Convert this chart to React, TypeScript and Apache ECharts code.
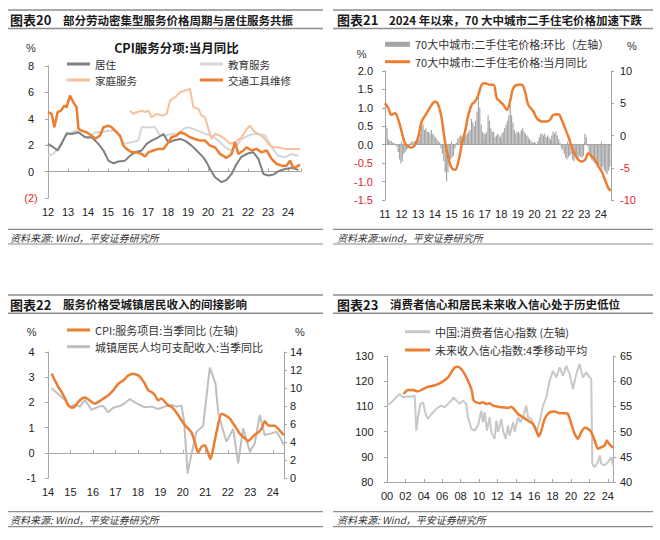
import React, { useEffect, useRef } from 'react';
import * as echarts from 'echarts';

const FONT = "'Liberation Sans', 'Noto Sans CJK SC', sans-serif";
const CJK = "'Noto Sans CJK SC', 'Liberation Sans', sans-serif";
const ORANGE = '#ed7d31';
const RED = '#e0262b';
const AXIS = '#a6a6a6';

// ---------- Panel 1 (图表20): CPI服务分项:当月同比, [year, %] ----------
const housing: number[][] = [
  [2012.0, 2.1], [2012.27, 1.84], [2012.48, 1.6], [2012.68, 2.1], [2012.93, 2.9], [2013.18, 2.85],
  [2013.52, 2.98], [2013.85, 2.6], [2014.18, 2.6], [2014.52, 2.1], [2014.77, 1.6], [2015.02, 0.83],
  [2015.27, 0.63], [2015.52, 0.76], [2015.85, 0.83], [2016.1, 1.2], [2016.35, 1.46], [2016.68, 1.6],
  [2016.93, 2.1], [2017.18, 2.35], [2017.52, 2.6], [2017.77, 2.85], [2018.02, 2.2], [2018.27, 2.35],
  [2018.6, 2.47], [2018.85, 2.35], [2019.18, 1.97], [2019.52, 1.46], [2019.77, 1.08], [2019.93, 0.7],
  [2020.1, 0.2], [2020.35, -0.43], [2020.68, -0.8], [2020.93, -0.63], [2021.18, -0.18], [2021.43, 0.58],
  [2021.68, 1.14], [2022.02, 1.39], [2022.27, 1.46], [2022.52, 0.96], [2022.77, -0.18], [2023.02, -0.3],
  [2023.27, -0.23], [2023.52, 0.03], [2023.85, 0.2], [2024.18, 0.28], [2024.52, 0.13],
];
const education: number[][] = [
  [2012.0, 1.2], [2012.27, 1.34], [2012.52, 1.84], [2012.77, 2.47], [2013.02, 2.85], [2013.35, 3.1],
  [2013.68, 2.85], [2014.02, 2.47], [2014.35, 2.98], [2014.68, 2.98], [2015.02, 3.1], [2015.43, 3.1],
  [2015.68, 2.35], [2015.85, 2.1], [2016.18, 2.22], [2016.52, 2.35], [2016.68, 3.36], [2017.02, 3.36],
  [2017.35, 3.36], [2017.6, 2.73], [2017.85, 2.73], [2018.18, 2.85], [2018.52, 2.85], [2018.77, 3.23],
  [2019.02, 3.36], [2019.27, 3.23], [2019.52, 3.1], [2019.85, 2.85], [2020.18, 2.73], [2020.52, 2.35],
  [2020.85, 1.84], [2021.18, 1.6], [2021.43, 1.97], [2021.68, 2.47], [2022.02, 2.73], [2022.27, 2.85],
  [2022.52, 2.85], [2022.85, 2.73], [2023.18, 1.84], [2023.52, 1.2], [2023.85, 1.08], [2024.18, 1.34],
  [2024.52, 1.2],
];
const household: number[][] = [
  [2016.1, 4.62], [2016.27, 4.37], [2016.43, 4.5], [2016.68, 4.62], [2016.85, 4.5], [2017.02, 4.62],
  [2017.18, 4.12], [2017.43, 4.37], [2017.68, 4.24], [2017.93, 4.37], [2018.1, 5.38], [2018.35, 5.63],
  [2018.6, 6.0], [2018.85, 6.14], [2019.1, 6.26], [2019.27, 4.87], [2019.52, 4.75], [2019.68, 4.24],
  [2019.85, 4.12], [2020.02, 3.23], [2020.18, 2.47], [2020.35, 2.85], [2020.6, 2.73], [2020.85, 2.47],
  [2021.1, 2.1], [2021.35, 2.22], [2021.68, 2.6], [2021.93, 3.23], [2022.1, 3.48], [2022.27, 3.1],
  [2022.52, 2.85], [2022.77, 2.6], [2023.02, 2.1], [2023.27, 1.84], [2023.52, 1.84], [2023.85, 1.72],
  [2024.18, 1.72], [2024.6, 1.72],
];
const vehicleRepair: number[][] = [
  [2012.0, 4.5], [2012.18, 4.37], [2012.32, 3.36], [2012.48, 4.5], [2012.65, 4.62], [2012.82, 5.0],
  [2012.93, 4.87], [2013.1, 5.76], [2013.27, 5.25], [2013.43, 4.87], [2013.52, 3.23], [2013.68, 3.1],
  [2013.93, 2.98], [2014.18, 2.73], [2014.35, 2.47], [2014.6, 2.73], [2014.77, 3.36], [2015.02, 3.48],
  [2015.18, 3.36], [2015.35, 3.1], [2015.6, 2.73], [2015.77, 1.97], [2015.93, 1.72], [2016.18, 1.46],
  [2016.43, 1.46], [2016.68, 1.34], [2016.85, 1.14], [2017.02, 1.46], [2017.27, 1.6], [2017.52, 1.72],
  [2017.77, 1.72], [2018.02, 2.22], [2018.18, 2.6], [2018.43, 2.73], [2018.6, 2.98], [2018.85, 2.85],
  [2019.1, 2.6], [2019.35, 2.47], [2019.6, 2.35], [2019.85, 2.35], [2020.1, 1.97], [2020.35, 1.84],
  [2020.6, 1.34], [2020.93, 1.04], [2021.18, 1.34], [2021.35, 2.22], [2021.52, 1.34], [2021.77, 1.6],
  [2021.93, 1.84], [2022.18, 1.6], [2022.43, 1.72], [2022.68, 1.46], [2022.93, 1.6], [2023.18, 0.96],
  [2023.43, 0.58], [2023.68, 0.45], [2023.93, 0.45], [2024.1, 0.83], [2024.27, 0.28], [2024.43, 0.38],
  [2024.6, 0.53],
];

// ---------- Panel 2 (图表21): 70城二手住宅, monthly MoM from 2011-01 (%), YoY [year, %] ----------
const homeMoMStart = 2011;
const homeMoM: number[] = [
  0.55, 0.45, 0.15, 0.1, 0.1, 0.05, 0.05, 0.0, -0.05, -0.2, -0.4, -0.5,
  -0.45, -0.25, -0.2, -0.15, -0.1, -0.05, 0.05, 0.1, 0.05, 0.1, 0.1, 0.05,
  0.15, 0.3, 0.5, 0.55, 0.4, 0.45, 0.35, 0.35, 0.3, 0.4, 0.3, 0.25,
  0.2, 0.15, 0.1, 0.05, -0.1, -0.25, -0.45, -0.75, -1.0, -0.75, -0.55, -0.4,
  -0.35, -0.3, -0.1, 0.05, 0.15, 0.2, 0.25, 0.25, 0.2, 0.3, 0.25, 0.3,
  0.35, 0.4, 0.7, 0.6, 0.5, 0.65, 0.9, 1.3, 1.0, 0.55, 0.35, 0.3,
  0.3, 0.35, 0.8, 0.65, 0.45, 0.35, 0.35, 0.2, 0.25, 0.3, 0.25, 0.2,
  0.3, 0.35, 0.45, 0.55, 0.65, 0.8, 1.1, 0.8, 0.6, 0.4, 0.3, 0.35,
  0.35, 0.3, 0.4, 0.45, 0.35, 0.3, 0.25, 0.2, 0.15, 0.1, 0.05, 0.05,
  0.05, 0.0, 0.1, 0.2, 0.3, 0.3, 0.25, 0.3, 0.2, 0.25, 0.2, 0.15,
  0.25, 0.35, 0.3, 0.35, 0.25, 0.15, 0.05, -0.1, -0.15, -0.25, -0.35, -0.4,
  -0.35, -0.3, -0.25, -0.4, -0.45, -0.3, -0.35, -0.4, -0.3, -0.35, -0.35, -0.3,
  0.3, 0.2, -0.05, -0.2, -0.3, -0.4, -0.45, -0.5, -0.4, -0.5, -0.55, -0.6,
  -0.65, -0.6, -0.7, -0.75, -0.8, -0.7, -0.6,
];
const homeYoY: number[][] = [
  [2011.0, 5.0], [2011.2, 4.24], [2011.4, 3.2], [2011.6, 3.46], [2011.8, 2.43], [2012.0, 0.62],
  [2012.2, -1.19], [2012.41, -1.7], [2012.61, -1.86], [2012.81, -1.45], [2013.01, -0.16], [2013.21, 2.17],
  [2013.51, 3.46], [2013.81, 4.75], [2014.01, 5.27], [2014.21, 4.75], [2014.41, 2.69], [2014.61, -0.93],
  [2014.82, -3.51], [2015.02, -5.06], [2015.22, -5.32], [2015.42, -4.03], [2015.62, -1.45], [2015.82, 0.62],
  [2016.02, 3.2], [2016.22, 4.75], [2016.42, 5.27], [2016.62, 6.3], [2016.82, 7.86], [2017.02, 8.11],
  [2017.33, 7.86], [2017.53, 7.86], [2017.73, 5.79], [2017.93, 5.27], [2018.13, 4.75], [2018.33, 3.98],
  [2018.53, 5.27], [2018.73, 7.34], [2019.03, 7.86], [2019.23, 7.86], [2019.43, 6.82], [2019.63, 4.75],
  [2019.94, 3.72], [2020.14, 2.69], [2020.44, 2.17], [2020.74, 2.17], [2020.94, 2.43], [2021.14, 3.2],
  [2021.44, 3.3], [2021.64, 2.43], [2021.84, 1.14], [2022.04, -0.16], [2022.24, -1.7], [2022.45, -3.0],
  [2022.65, -3.77], [2022.85, -4.03], [2023.05, -3.77], [2023.25, -2.74], [2023.45, -3.26], [2023.65, -3.77],
  [2023.85, -4.81], [2024.05, -5.58], [2024.25, -6.87], [2024.45, -8.16], [2024.59, -8.58],
];

// ---------- Panel 3 (图表22): CPI服务 (left) vs 城镇居民人均可支配收入 (right) ----------
const cpiServices: number[][] = [
  [2014.16, 3.14], [2014.31, 2.87], [2014.46, 2.61], [2014.61, 2.41], [2014.76, 2.15], [2014.9, 1.88],
  [2015.05, 1.79], [2015.2, 1.84], [2015.35, 2.02], [2015.5, 2.15], [2015.64, 2.19], [2015.79, 2.12],
  [2015.94, 2.02], [2016.09, 1.95], [2016.24, 2.02], [2016.46, 2.15], [2016.68, 2.28], [2016.9, 2.48],
  [2017.13, 2.74], [2017.35, 2.87], [2017.57, 3.07], [2017.79, 3.14], [2018.01, 3.07], [2018.16, 2.94],
  [2018.31, 2.74], [2018.46, 2.48], [2018.61, 2.41], [2018.76, 2.28], [2018.9, 2.08], [2019.05, 2.15],
  [2019.2, 2.02], [2019.35, 1.88], [2019.5, 1.82], [2019.64, 1.69], [2019.79, 1.49], [2019.94, 1.29],
  [2020.09, 1.09], [2020.24, 0.96], [2020.39, 0.8], [2020.53, 0.43], [2020.68, 0.01], [2020.83, 0.24],
  [2020.98, 0.3], [2021.13, -0.03], [2021.23, -0.25], [2021.35, 0.17], [2021.5, 0.83], [2021.72, 1.55],
  [2021.94, 1.46], [2022.09, 1.36], [2022.24, 1.16], [2022.39, 0.96], [2022.53, 0.76], [2022.76, 0.57],
  [2022.9, 0.46], [2023.05, 0.57], [2023.2, 0.72], [2023.35, 0.8], [2023.5, 0.96], [2023.64, 1.25],
  [2023.79, 1.09], [2023.94, 1.07], [2024.09, 1.07], [2024.24, 0.96], [2024.39, 0.8], [2024.49, 0.7],
];
const urbanIncome: number[][] = [
  [2014.16, 9.96], [2014.46, 9.3], [2014.76, 8.67], [2014.98, 7.93], [2015.2, 8.19], [2015.42, 7.93],
  [2015.64, 8.67], [2015.94, 7.56], [2016.24, 7.93], [2016.46, 8.0], [2016.68, 7.3], [2016.9, 7.81],
  [2017.2, 8.0], [2017.42, 8.3], [2017.64, 8.78], [2017.87, 8.41], [2018.09, 8.11], [2018.31, 7.85],
  [2018.61, 7.93], [2018.9, 7.67], [2019.2, 7.93], [2019.5, 8.11], [2019.72, 7.93], [2019.94, 8.04],
  [2020.06, 6.26], [2020.21, 0.52], [2020.39, 2.74], [2020.61, 5.15], [2020.9, 5.78], [2021.05, 9.04],
  [2021.2, 12.26], [2021.45, 10.52], [2021.57, 7.37], [2021.72, 5.89], [2021.94, 4.04], [2022.24, 5.44],
  [2022.46, 1.63], [2022.68, 5.52], [2022.98, 2.93], [2023.2, 3.85], [2023.42, 7.0], [2023.64, 4.78],
  [2023.94, 4.96], [2024.16, 5.15], [2024.31, 4.59], [2024.49, 3.67],
];

// ---------- Panel 4 (图表23): 消费者信心指数 (left) vs 未来收入信心指数 (right) ----------
const consumerConfidence: number[][] = [
  [2000.0, 110.3], [2000.47, 111.6], [2001.01, 113.6], [2001.38, 114.9], [2001.74, 113.6], [2002.28, 113.9],
  [2002.83, 113.9], [2003.01, 114.3], [2003.19, 100.4], [2003.37, 105.7], [2003.62, 111.0], [2003.91, 111.6],
  [2004.2, 107.0], [2004.46, 105.0], [2004.82, 107.0], [2005.18, 108.3], [2005.54, 109.6], [2005.91, 110.3],
  [2006.27, 109.6], [2006.63, 111.0], [2006.99, 112.3], [2007.25, 113.6], [2007.54, 112.3], [2007.9, 111.0],
  [2008.26, 112.3], [2008.62, 111.0], [2008.8, 105.7], [2009.17, 101.1], [2009.53, 100.4], [2009.89, 102.4],
  [2010.25, 108.3], [2010.43, 103.7], [2010.62, 107.7], [2010.87, 100.4], [2011.16, 105.7], [2011.34, 99.8],
  [2011.7, 97.1], [2011.88, 104.4], [2012.07, 99.8], [2012.43, 105.0], [2012.61, 100.4], [2012.9, 97.1],
  [2013.15, 102.4], [2013.33, 98.4], [2013.7, 103.7], [2013.88, 99.8], [2014.24, 105.7], [2014.49, 103.7],
  [2014.78, 105.7], [2015.14, 110.3], [2015.33, 105.7], [2015.69, 105.0], [2016.05, 101.7], [2016.23, 99.8],
  [2016.59, 103.7], [2016.96, 110.3], [2017.32, 113.6], [2017.68, 120.2], [2018.04, 124.1], [2018.41, 121.5],
  [2018.77, 125.5], [2019.13, 122.2], [2019.49, 126.1], [2019.86, 122.8], [2020.22, 116.9], [2020.58, 122.8],
  [2020.94, 126.8], [2021.3, 121.5], [2021.67, 123.5], [2022.03, 121.5], [2022.21, 120.8], [2022.32, 87.2],
  [2022.57, 85.9], [2022.93, 87.9], [2023.12, 90.5], [2023.3, 87.2], [2023.66, 86.6], [2024.02, 87.9],
  [2024.38, 89.9], [2024.57, 86.6],
];
const incomeConfidence: number[][] = [
  [2001.81, 57.46], [2002.28, 58.25], [2002.83, 58.25], [2003.37, 57.98], [2003.91, 58.45], [2004.46, 58.9],
  [2005.0, 59.1], [2005.54, 59.43], [2006.09, 59.96], [2006.63, 60.75], [2006.99, 61.74], [2007.36, 62.73],
  [2007.72, 62.86], [2008.08, 62.4], [2008.44, 61.4], [2008.8, 60.09], [2009.17, 58.45], [2009.42, 56.14],
  [2009.71, 55.81], [2010.07, 55.61], [2010.43, 55.81], [2010.8, 55.48], [2011.16, 55.61], [2011.52, 55.15],
  [2012.07, 54.95], [2012.61, 54.82], [2013.15, 54.69], [2013.51, 54.95], [2013.88, 54.3], [2014.24, 53.5],
  [2014.78, 52.85], [2015.33, 52.19], [2015.87, 51.53], [2016.23, 50.21], [2016.49, 49.03], [2016.78, 50.21],
  [2017.14, 52.52], [2017.68, 53.83], [2018.22, 53.97], [2018.77, 53.64], [2019.31, 53.64], [2019.67, 53.5],
  [2020.04, 51.53], [2020.4, 49.55], [2020.76, 48.56], [2021.12, 49.88], [2021.49, 50.74], [2021.85, 50.54],
  [2022.21, 49.88], [2022.57, 48.23], [2022.93, 46.59], [2023.3, 46.92], [2023.66, 47.25], [2023.91, 48.23],
  [2024.2, 47.44], [2024.57, 46.79],
];

// ---------- helpers ----------
const yearLabel = (pad: boolean) => (v: number) =>
  Number.isInteger(v) ? (pad ? String(v % 100).padStart(2, '0') : String(v % 100)) : '';

function labelXAxis(grid: number, min: number, max: number, interval: number, pad = false, withLine = false) {
  return {
    type: 'value', gridIndex: grid, min, max, interval, position: 'bottom',
    axisLine: { show: withLine, onZero: false, lineStyle: { color: AXIS, width: 1 } },
    axisTick: { show: withLine, inside: true, length: 3, lineStyle: { color: AXIS } },
    splitLine: { show: false },
    axisLabel: { fontSize: 11, color: '#222', fontFamily: FONT, margin: 8, showMaxLabel: false, formatter: yearLabel(pad) },
  };
}
function zeroXAxis(grid: number, min: number, max: number, interval: number) {
  return {
    type: 'value', gridIndex: grid, min, max, interval, position: 'bottom',
    axisLine: { show: true, onZero: true, lineStyle: { color: AXIS, width: 1 } },
    axisTick: { show: true, inside: true, length: 3, lineStyle: { color: AXIS } },
    axisLabel: { show: false }, splitLine: { show: false },
  };
}
function valYAxis(grid: number, position: string, min: number, max: number, interval: number, label: any) {
  return {
    type: 'value', gridIndex: grid, position, min, max, interval,
    axisLine: { show: true, onZero: false, lineStyle: { color: AXIS, width: 1 } },
    axisTick: { show: true, length: 3, lineStyle: { color: AXIS } },
    splitLine: { show: false },
    axisLabel: Object.assign({ fontSize: 11, fontFamily: FONT, color: (v: any) => (Number(v) < 0 ? RED : '#222') }, label),
  };
}
function legend(name: string, left: number, cy: number, w: number, h: number, fs = 11) {
  return {
    data: [name], left, top: cy - 6, padding: 0, itemWidth: w, itemHeight: h, icon: 'rect', selectedMode: false,
    textStyle: { fontSize: fs, lineHeight: 12, color: '#333', fontFamily: CJK },
  };
}
function txt(text: string, x: number, y: number, font: string, fill = '#222', align = 'left') {
  return { type: 'text', silent: true, style: { text, x, y, font, fill, textAlign: align, textVerticalAlign: 'middle' } };
}
function hline(x1: number, x2: number, y: number, w = 1.5, color = '#8c8c8c') {
  return { type: 'line', silent: true, shape: { x1, y1: y, x2, y2: y }, style: { stroke: color, lineWidth: w } };
}

const HEAD_LABEL = `bold 13px ${CJK}`;
const HEAD_TITLE = `bold 11.5px ${CJK}`;
const SRC = `italic 10px ${CJK}`;
const SMALL = `11px ${FONT}`;

const graphics: any[] = [
  // panel 1 header
  hline(8, 323, 10), hline(8, 323, 28.5),
  txt('图表20', 10, 19.5, HEAD_LABEL, '#1a1a1a'), txt('部分劳动密集型服务价格周期与居住服务共振', 63, 19.5, HEAD_TITLE, '#1a1a1a'),
  txt('%', 31, 48, SMALL, '#333', 'center'),
  txt('CPI服务分项:当月同比', 176.5, 47, `bold 12.5px ${CJK}`, '#1a1a1a', 'center'),
  hline(8, 323, 229.3, 1.2), hline(8, 323, 244, 1.2),
  txt('资料来源: Wind，平安证券研究所', 10, 237.3, SRC, '#333'),
  // panel 2 header
  hline(333, 653, 10), hline(333, 653, 28.5),
  txt('图表21', 337, 19.5, HEAD_LABEL, '#1a1a1a'), txt('2024 年以来，70 大中城市二手住宅价格加速下跌', 389, 19.5, HEAD_TITLE, '#1a1a1a'),
  txt('%', 361.7, 53.5, SMALL, '#333', 'center'), txt('%', 632, 46, SMALL, '#333', 'center'),
  hline(333, 653, 229.3, 1.2), hline(333, 653, 244, 1.2),
  txt('资料来源:wind，平安证券研究所', 337, 237.3, SRC, '#333'),
  // panel 3 header
  hline(8, 323, 295), hline(8, 323, 313.3),
  txt('图表22', 10, 304.3, HEAD_LABEL, '#1a1a1a'), txt('服务价格受城镇居民收入的间接影响', 63, 304.3, HEAD_TITLE, '#1a1a1a'),
  txt('%', 31.7, 331.7, SMALL, '#333', 'center'), txt('%', 300, 331.7, SMALL, '#333', 'center'),
  hline(8, 323, 511.7, 1.2), hline(8, 323, 526.7, 1.2),
  txt('资料来源: Wind，平安证券研究所', 10, 519, SRC, '#333'),
  // panel 4 header
  hline(333, 653, 295), hline(333, 653, 313.3),
  txt('图表23', 337, 304.3, HEAD_LABEL, '#1a1a1a'), txt('消费者信心和居民未来收入信心处于历史低位', 390, 304.3, HEAD_TITLE, '#1a1a1a'),
  hline(333, 653, 511.7, 1.2), hline(333, 653, 526.7, 1.2),
  txt('资料来源: Wind，平安证券研究所', 337, 519, SRC, '#333'),
];

const line = (name: string, x: number, y: number, data: number[][], color: string, width: number, smooth: any = false) => ({
  type: 'line', name, xAxisIndex: x, yAxisIndex: y, data, symbol: 'none', smooth,
  lineStyle: { color, width }, itemStyle: { color }, emphasis: { disabled: true }, silent: true,
});

const N_MOM = '70大中城市:二手住宅价格:环比（左轴）';
const N_YOY = '70大中城市:二手住宅价格:当月同比';
const N_CPI = 'CPI:服务项目:当季同比 (左轴)';
const N_INC = '城镇居民人均可支配收入:当季同比';
const N_CC = '中国:消费者信心指数 (左轴)';
const N_IC = '未来收入信心指数:4季移动平均';

const option: any = {
  animation: false,
  backgroundColor: '#fff',
  textStyle: { fontFamily: FONT },
  grid: [
    { left: 48, top: 66, width: 253, height: 132 },
    { left: 385, top: 71, width: 226, height: 129 },
    { left: 48, top: 352, width: 236, height: 126 },
    { left: 387, top: 356, width: 226, height: 126 },
  ],
  xAxis: [
    labelXAxis(0, 2012, 2024.65, 1), zeroXAxis(0, 2012, 2024.65, 1),
    labelXAxis(1, 2011, 2024.61, 1), zeroXAxis(1, 2011, 2024.61, 1),
    labelXAxis(2, 2014, 2024.5, 1), zeroXAxis(2, 2014, 2024.5, 1),
    labelXAxis(3, 2000, 2024.57, 2, true, true),
  ],
  yAxis: [
    valYAxis(0, 'left', -2, 8, 2, { align: 'center', margin: 17, formatter: (v: number) => (v < 0 ? `(${-v})` : `${v}`) }),
    valYAxis(1, 'left', -1.5, 2, 0.5, { margin: 12, formatter: (v: number) => v.toFixed(1) }),
    valYAxis(1, 'right', -10, 10, 5, { margin: 9 }),
    valYAxis(2, 'left', -1, 4, 1, { align: 'center', margin: 16.5, color: '#222' }),
    valYAxis(2, 'right', 0, 14, 2, { margin: 6 }),
    valYAxis(3, 'left', 80, 130, 10, { margin: 13.5 }),
    valYAxis(3, 'right', 40, 65, 5, { margin: 7 }),
  ],
  legend: [
    legend('居住', 67, 64, 23, 3, 10.5),
    legend('教育服务', 200, 64, 23, 3, 10.5),
    legend('家庭服务', 67, 80, 23, 3, 10.5),
    legend('交通工具维修', 200, 80, 23, 3, 10.5),
    legend(N_MOM, 385, 44.3, 25, 5),
    legend(N_YOY, 385, 61.7, 25, 3),
    legend(N_CPI, 67, 330, 23, 3),
    legend(N_INC, 67, 346.7, 23, 3),
    legend(N_CC, 405, 331.7, 25, 3),
    legend(N_IC, 405, 350, 25, 3),
  ],
  series: [
    line('教育服务', 0, 0, education, '#d3d7dc', 2),
    line('家庭服务', 0, 0, household, '#f6c09a', 2),
    line('居住', 0, 0, housing, '#7f7f7f', 2),
    line('交通工具维修', 0, 0, vehicleRepair, ORANGE, 2.5),
    {
      type: 'bar', name: N_MOM, xAxisIndex: 2, yAxisIndex: 1, barWidth: 1.2, silent: true,
      data: homeMoM.map((v, i) => [homeMoMStart + (i + 0.5) / 12, v]),
      itemStyle: { color: '#a5a5a5' },
    },
    line(N_YOY, 2, 2, homeYoY, ORANGE, 2.5, 0.4),
    line(N_INC, 4, 4, urbanIncome, '#bfbfbf', 2),
    line(N_CPI, 4, 3, cpiServices, ORANGE, 2.5, 0.2),
    line(N_CC, 6, 5, consumerConfidence, '#c8c8c8', 2),
    line(N_IC, 6, 6, incomeConfidence, ORANGE, 2.5, 0.2),
  ],
  graphic: graphics,
};

export default function App() {
  const ref = useRef<HTMLDivElement>(null);
  useEffect(() => {
    const chart = echarts.init(ref.current!, null, { renderer: 'svg' });
    chart.setOption(option);
    return () => chart.dispose();
  }, []);
  return (
    <div
      ref={ref}
      style={{ position: 'fixed', left: 0, top: 0, width: 660, height: 540, background: '#fff' }}
    />
  );
}
